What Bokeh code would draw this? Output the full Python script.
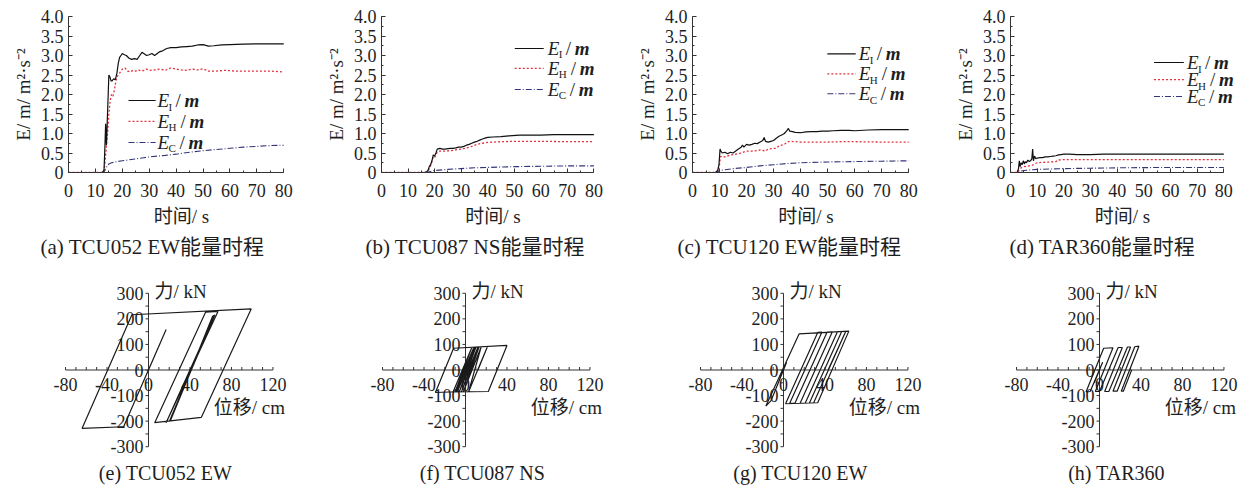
from bokeh.plotting import figure
from bokeh.layouts import column, row
from bokeh.models import Range1d, SingleIntervalTicker, Title, NumeralTickFormatter
from bokeh.core.properties import value
from bokeh.embed import file_html
from bokeh.resources import INLINE

FONT = "Liberation Serif, Noto Sans CJK SC"
TXT = "#1e1e1e"
AXC = "#333333"

# ---------------- energy time histories (t in s, E/m in m^2 s^-2) ----------------
# (a) TCU052 EW
a_tI = [0, 12.5, 13.2, 13.5, 13.8, 14.1, 14.4, 14.7, 15.0, 15.4, 15.8, 16.2, 16.8, 17.4, 18.0, 18.5, 19.0, 19.5,
        20.0, 20.8, 21.5, 22.5, 23.5, 24.5, 25.5, 26.5, 27.3, 28.0, 29.0, 30.0, 31.0, 32.0, 33.0, 34.0, 35.0,
        36.5, 38.0, 40.0, 42.0, 44.0, 46.0, 48.0, 50.0, 52.0, 54.0, 57.0, 60.0, 65.0, 70.0, 75.0, 80.0]
a_EI = [0, 0, 0.05, 0.6, 1.25, 0.7, 1.3, 1.9, 2.5, 2.45, 2.35, 2.35, 2.4, 2.38, 2.55, 2.8, 2.95, 3.0,
        3.05, 3.02, 3.0, 2.93, 2.9, 2.92, 2.9, 3.0, 3.08, 3.05, 3.0, 3.02, 3.05, 3.0, 3.05, 3.1, 3.12,
        3.18, 3.2, 3.2, 3.22, 3.23, 3.24, 3.27, 3.28, 3.24, 3.25, 3.27, 3.28, 3.29, 3.3, 3.3, 3.3]
a_tH = [0, 13.0, 13.5, 14.0, 14.5, 15.0, 15.5, 16.0, 16.5, 17.0, 17.5, 18.0, 18.5, 19.0, 19.5, 20.0, 21, 22, 23,
        24, 25, 26, 27, 28, 29, 30, 32, 34, 36, 38, 40, 42, 44, 46, 48, 50, 52, 55, 58, 62, 66, 70, 75, 80]
a_EH = [0, 0, 0.2, 0.6, 1.0, 1.5, 1.85, 2.0, 1.95, 2.1, 2.3, 2.45, 2.5, 2.55, 2.6, 2.65, 2.68, 2.6, 2.58,
        2.62, 2.6, 2.63, 2.6, 2.62, 2.65, 2.62, 2.63, 2.65, 2.62, 2.68, 2.65, 2.63, 2.62, 2.65, 2.63, 2.66,
        2.6, 2.6, 2.62, 2.6, 2.6, 2.6, 2.6, 2.58]
a_tC = [0, 13, 13.5, 14, 14.5, 15, 16, 18, 20, 22, 25, 28, 30, 33, 36, 40, 45, 50, 55, 60, 65, 70, 75, 80]
a_EC = [0, 0, 0.05, 0.12, 0.18, 0.22, 0.25, 0.28, 0.3, 0.32, 0.35, 0.38, 0.4, 0.42, 0.44, 0.47, 0.52, 0.56,
        0.59, 0.62, 0.65, 0.67, 0.69, 0.7]

# (b) TCU087 NS
b_tI = [0, 16, 17, 17.5, 18, 18.5, 19, 19.5, 20, 20.5, 21, 22, 23, 24, 25, 26, 27, 28, 29, 30, 31, 32, 33,
        34, 35, 36, 37, 38, 39, 40, 42, 45, 48, 52, 56, 60, 65, 70, 80]
b_EI = [0, 0, 0.02, 0.05, 0.15, 0.2, 0.3, 0.45, 0.42, 0.5, 0.6, 0.62, 0.6, 0.6, 0.61, 0.62, 0.62, 0.63,
        0.65, 0.65, 0.67, 0.7, 0.72, 0.75, 0.78, 0.8, 0.83, 0.86, 0.88, 0.9, 0.91, 0.92, 0.94, 0.96, 0.96,
        0.96, 0.97, 0.97, 0.97]
b_tH = [0, 17, 17.5, 18, 18.5, 19, 19.5, 20, 20.5, 21, 22, 24, 26, 28, 30, 32, 34, 36, 38, 40, 42, 45, 50,
        55, 60, 70, 80]
b_EH = [0, 0, 0.03, 0.1, 0.18, 0.28, 0.4, 0.38, 0.45, 0.52, 0.55, 0.55, 0.56, 0.58, 0.6, 0.63, 0.67, 0.72,
        0.75, 0.77, 0.78, 0.79, 0.8, 0.8, 0.8, 0.79, 0.79]
b_tC = [0, 17, 18, 20, 25, 30, 35, 40, 50, 60, 70, 80]
b_EC = [0, 0, 0.02, 0.05, 0.08, 0.1, 0.12, 0.13, 0.15, 0.16, 0.17, 0.17]

# (c) TCU120 EW
c_tI = [0, 8.5, 9.3, 9.8, 10.2, 10.5, 11, 12, 13, 14, 15, 16, 17, 18, 18.5, 19, 20, 21, 22, 23, 24, 25, 26,
        26.5, 27, 28, 29, 30, 31, 32, 33, 34, 35, 35.5, 36, 37, 38, 40, 42, 44, 46, 48, 50, 52, 55, 58, 60,
        65, 70, 80]
c_EI = [0, 0, 0.05, 0.2, 0.6, 0.55, 0.5, 0.52, 0.48, 0.52, 0.5, 0.55, 0.6, 0.65, 0.7, 0.65, 0.72, 0.7,
        0.72, 0.75, 0.74, 0.78, 0.82, 0.9, 0.8, 0.78, 0.8, 0.82, 0.88, 0.93, 0.96, 1.0, 1.08, 1.13, 1.06,
        1.05, 1.03, 1.02, 1.04, 1.05, 1.05, 1.06, 1.06, 1.07, 1.08, 1.08, 1.07, 1.09, 1.1, 1.1]
c_tH = [0, 9, 9.5, 10, 10.3, 11, 12, 14, 16, 18, 20, 22, 24, 25, 27, 28, 30, 31, 32, 33, 34, 35, 36, 38, 40,
        45, 50, 55, 60, 70, 80]
c_EH = [0, 0, 0.05, 0.2, 0.4, 0.42, 0.4, 0.45, 0.47, 0.5, 0.55, 0.55, 0.56, 0.58, 0.55, 0.6, 0.62, 0.62,
        0.68, 0.7, 0.72, 0.78, 0.8, 0.79, 0.78, 0.78, 0.78, 0.79, 0.79, 0.78, 0.78]
c_tC = [0, 9, 10, 12, 15, 20, 25, 30, 35, 40, 50, 60, 70, 80]
c_EC = [0, 0, 0.05, 0.07, 0.1, 0.13, 0.17, 0.2, 0.23, 0.25, 0.27, 0.28, 0.29, 0.3]

# (d) TAR360
d_tI = [0, 2.5, 3, 3.3, 3.6, 4, 4.4, 4.8, 5.2, 5.6, 6, 6.5, 7, 7.5, 8, 8.3, 8.6, 9, 9.5, 10, 11, 12, 13, 14,
        15, 16, 17, 18, 19, 20, 22, 25, 28, 30, 35, 40, 50, 60, 80]
d_EI = [0, 0, 0.1, 0.3, 0.15, 0.25, 0.2, 0.3, 0.22, 0.28, 0.25, 0.32, 0.28, 0.3, 0.35, 0.6, 0.3, 0.42, 0.35,
        0.37, 0.38, 0.38, 0.4, 0.4, 0.41, 0.42, 0.43, 0.45, 0.46, 0.47, 0.47, 0.46, 0.46, 0.46, 0.47, 0.47,
        0.47, 0.47, 0.47]
d_tH = [0, 2.5, 3, 3.5, 4, 5, 6, 7, 8, 9, 10, 12, 15, 17, 18, 20, 30, 40, 60, 80]
d_EH = [0, 0, 0.05, 0.1, 0.12, 0.15, 0.16, 0.17, 0.18, 0.22, 0.25, 0.26, 0.27, 0.28, 0.32, 0.33, 0.33, 0.33,
        0.33, 0.33]
d_tC = [0, 2.5, 3, 4, 5, 8, 10, 15, 20, 30, 40, 60, 80]
d_EC = [0, 0, 0.02, 0.04, 0.05, 0.07, 0.08, 0.09, 0.1, 0.11, 0.12, 0.13, 0.13]

TOP_CAPTIONS = ["(a) TCU052 EW能量时程", "(b) TCU087 NS能量时程", "(c) TCU120 EW能量时程", "(d) TAR360能量时程"]
E_TICKS_X = [0, 10, 20, 30, 40, 50, 60, 70, 80]
E_TICKS_Y = [0, 0.5, 1.0, 1.5, 2.0, 2.5, 3.0, 3.5, 4.0]
SUBS = ["I", "H", "C"]

# ---------------- hysteresis loops (displacement cm, force kN) ----------------
e_disp = [0, 17, -24, -64, -16, 99, 51, 6, 55, 67, 17, 64, 20, 63, 21, 62, 41]
e_force = [0, 158, -222, -228, 216, 239, -185, -206, 226, 229, -206, 216, -202, 214, -200, 212, 0]
f_disp = [0, 9, -9, -29, -11.5, 40, 22, -12, 6, -10, 8, -8, 10, -6, 12, -4, 13, -2, 15, 3, 21, 12]
f_force = [0, 88, -85, -88, 85, 96, -84, -86, 87, -85, 88, -86, 88, -85, 89, -86, 89, -85, 89, -85, 90, 0]
g_disp = [0, 3, -12, -17, 15, 63, 33, 2, 33, 37, 6, 11, 42, 47, 16, 21, 52, 56, 25, 29, 60, 43]
g_force = [0, 30, -120, -141, 141, 152, -128, -132, 147, 148, -130, -130, 148, 149, -130, -129, 150, 150,
           -129, -129, 151, 0]
h_disp = [0, -5, 3, -9, -13, 4, 13, -4, 0, 18, 22, 5, 9, 27, 30, 13, 17, 34, 38, 21, 23, 31]
h_force = [0, -50, 30, -84, -86, 85, 87, -84, -84, 88, 88, -84, -84, 90, 90, -83, -83, 91, 93, -83, -83, 0]

BOT_CAPTIONS = ["(e) TCU052 EW", "(f) TCU087 NS", "(g) TCU120 EW", "(h) TAR360"]
H_TICKS_X = [-80, -40, 0, 40, 80, 120]
H_TICKS_Y = [-300, -200, -100, 0, 100, 200, 300]

# ---------------- styles ----------------
STY = {
    "I": dict(line_color="#111111", line_width=1.2),
    "H": dict(line_color="#e3303c", line_width=1.3, line_dash="2 2"),
    "C": dict(line_color="#35357a", line_width=1.1, line_dash="6 2 1 2"),
}
SUB_W = {"I": 4, "H": 9, "C": 8}


def energy_panel(series, caption, fig_w, px_per_s, leg, left, cap_off):
    x_end = 84
    fw = int(round(px_per_s * x_end))
    p = figure(frame_width=fw, frame_height=156, x_range=Range1d(0, x_end), y_range=Range1d(0, 4),
               min_border_left=left, min_border_right=fig_w - left - fw, min_border_top=16,
               min_border_bottom=90, output_backend="svg", toolbar_location=None)
    p.outline_line_color = None
    p.grid.visible = False
    p.xaxis.bounds = (min(E_TICKS_X), max(E_TICKS_X))
    p.xaxis.ticker = SingleIntervalTicker(interval=E_TICKS_X[1] - E_TICKS_X[0], num_minor_ticks=2)
    p.yaxis.ticker = SingleIntervalTicker(interval=E_TICKS_Y[1] - E_TICKS_Y[0], num_minor_ticks=2)
    p.yaxis.formatter = NumeralTickFormatter(format="0.0")
    p.yaxis.major_label_overrides = {0: "0"}
    for ax in (p.xaxis[0], p.yaxis[0]):
        ax.axis_line_color = AXC
        ax.major_tick_line_color = AXC
        ax.minor_tick_line_color = AXC
        ax.major_tick_in = 4
        ax.major_tick_out = 0
        ax.minor_tick_in = 2
        ax.minor_tick_out = 0
        ax.major_label_text_font = FONT
        ax.major_label_text_font_size = "18px"
        ax.major_label_text_color = TXT
        ax.axis_label_text_font = FONT
        ax.axis_label_text_font_size = "19px"
        ax.axis_label_text_font_style = "normal"
        ax.axis_label_text_color = TXT
    p.xaxis.major_label_standoff = 11
    p.xaxis.axis_label_standoff = 6
    p.yaxis.major_label_standoff = 5
    p.yaxis.axis_label_standoff = 4
    p.xaxis.axis_label = "时间/ s"
    p.yaxis.axis_label = "E/ m/ m²·s⁻²"

    for key in ["C", "H", "I"]:
        t, e = series[key]
        p.line(t, e, **STY[key])

    x0, x1, xt, ys = leg
    for key, y in zip(SUBS, ys):
        p.segment(x0=[x0], y0=[y], x1=[x1], y1=[y], **STY[key])
        common = dict(text_font=value(FONT), text_baseline="middle", text_align="left", text_color=TXT)
        p.text(x=[xt], y=[y], text=["E"], text_font_size="19px", text_font_style="italic", **common)
        p.text(x=[xt], y=[y], text=[key], x_offset=11, y_offset=6, text_font_size="11px", **common)
        p.text(x=[xt], y=[y], text=["/"], x_offset=14 + SUB_W[key], text_font_size="19px", **common)
        p.text(x=[xt], y=[y], text=["m"], x_offset=23 + SUB_W[key], text_font_size="19px",
               text_font_style="bold italic", **common)

    p.add_layout(Title(text=caption, align="left", offset=cap_off, text_font=FONT, text_font_size="21px",
                       text_font_style="normal", text_color=TXT, standoff=6), "below")
    return p


HSX = 1.037   # px per cm
HSY = 0.2557  # px per kN
HF_W, HF_H = 250, 176
HZ_X, HZ_Y = 108, 89.5


def hyst_panel(disp, force, caption, lb, rb):
    p = figure(frame_width=HF_W, frame_height=HF_H,
               x_range=Range1d(-HZ_X / HSX, (HF_W - HZ_X) / HSX),
               y_range=Range1d(-(HF_H - HZ_Y) / HSY, HZ_Y / HSY),
               x_axis_location=None, y_axis_location=None,
               min_border_left=lb, min_border_right=rb, min_border_top=18, min_border_bottom=32,
               output_backend="svg", toolbar_location=None)
    p.outline_line_color = None
    p.grid.visible = False
    xs, ys = H_TICKS_X, H_TICKS_Y
    p.segment(x0=[min(xs)], y0=[0], x1=[max(xs)], y1=[0], line_color=AXC, line_width=1)
    p.segment(x0=[0], y0=[min(ys)], x1=[0], y1=[max(ys)], line_color=AXC, line_width=1)
    minor = list(range(min(xs), max(xs) + 1, 10))
    p.segment(x0=minor, y0=[0] * len(minor), x1=minor, y1=[3 / HSY] * len(minor), line_color=AXC, line_width=1)
    yminor = list(range(min(ys), max(ys) + 1, 50))
    p.segment(x0=[0] * len(yminor), y0=yminor, x1=[-3 / HSX] * len(yminor), y1=yminor, line_color=AXC,
              line_width=1)
    common = dict(text_font=value(FONT), text_color=TXT, text_baseline="middle")
    p.text(x=xs, y=[0] * len(xs), text=[str(v) for v in xs], y_offset=14, text_align="center",
           text_font_size="18px", **common)
    p.text(x=[0] * len(ys), y=ys, text=[str(v) for v in ys], x_offset=-5, text_align="right",
           text_font_size="18px", **common)
    p.text(x=[0], y=[max(ys)], text=["力/ kN"], x_offset=6, y_offset=-2, text_align="left",
           text_font_size="19px", **common)
    p.text(x=[63], y=[-148], text=["位移/ cm"], text_align="left", text_font_size="19px", **common)

    p.line(disp, force, line_color="#1a1a1a", line_width=1.2)

    p.add_layout(Title(text=caption, align="center", text_font=FONT, text_font_size="20px",
                       text_font_style="normal", text_color=TXT, standoff=7), "below")
    return p


top_series = [
    {"I": (a_tI, a_EI), "H": (a_tH, a_EH), "C": (a_tC, a_EC)},
    {"I": (b_tI, b_EI), "H": (b_tH, b_EH), "C": (b_tC, b_EC)},
    {"I": (c_tI, c_EI), "H": (c_tH, c_EH), "C": (c_tC, c_EC)},
    {"I": (d_tI, d_EI), "H": (d_tH, d_EH), "C": (d_tC, d_EC)},
]
top_w = [321, 311, 318, 288]
top_left = [68, 60, 60, 60]
top_scale = [2.6875, 2.65, 2.7, 2.6625]
top_cap_off = [-28, -16, -15, -1]
top_leg = [
    (22.3, 32.4, 33.1, [1.846, 1.31, 0.77]),
    (50.2, 61.1, 62.6, [3.18, 2.67, 2.13]),
    (49.9, 60.4, 61.5, [3.04, 2.53, 2.02]),
    (53.8, 65.0, 66.2, [2.82, 2.38, 1.95]),
]
top = [energy_panel(s, c, w, k, l, lf, co)
       for s, c, w, k, l, lf, co in zip(top_series, TOP_CAPTIONS, top_w, top_scale, top_leg, top_left,
                                        top_cap_off)]

bot_data = [(e_disp, e_force), (f_disp, f_force), (g_disp, g_force), (h_disp, h_force)]
bot_borders = [(40, 67), (0, 68), (0, 66), (0, 0)]
bot = [hyst_panel(d, f, c, lb, rb) for (d, f), c, (lb, rb) in zip(bot_data, BOT_CAPTIONS, bot_borders)]

layout = column(row(*top), row(*bot))
open("out.html", "w").write(file_html(layout, INLINE))
